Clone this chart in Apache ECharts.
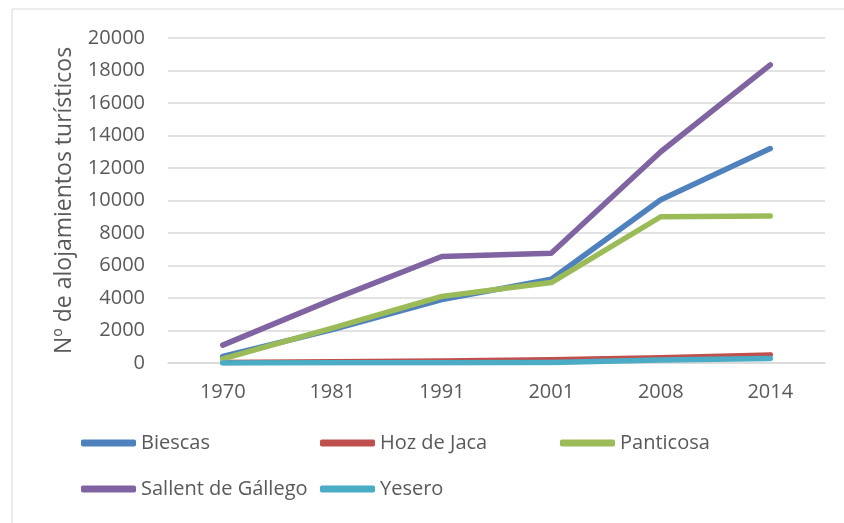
<!DOCTYPE html>
<html>
<head>
<meta charset="utf-8">
<script src="https://cdn.jsdelivr.net/npm/echarts@6/dist/echarts.min.js"></script>
<style>html,body{margin:0;padding:0;background:#fff;}#c{width:844px;height:523px;}</style>
</head>
<body>
<div id="c"></div>
<script>
const categories = ['1970', '1981', '1991', '2001', '2008', '2014'];
const biescas = [400, 2050, 3900, 5150, 10050, 13200];
const hozDeJaca = [30, 80, 130, 200, 330, 500];
const panticosa = [250, 2150, 4100, 4950, 9000, 9050];
const sallent = [1100, 3900, 6550, 6750, 13000, 18350];
const yesero = [0, 10, 20, 30, 180, 280];
const seriesNames = ['Biescas', 'Hoz de Jaca', 'Panticosa', 'Sallent de Gállego', 'Yesero'];
const seriesData = [biescas, hozDeJaca, panticosa, sallent, yesero];
const colors = ['#4F81BD', '#C0504D', '#9BBB59', '#8064A2', '#4BACC6'];
const yTitle = 'Nº de alojamientos turísticos';

const FONT = '"Open Sans", sans-serif';
const TXT = '#595959';
const chart = echarts.init(document.getElementById('c'), null, {renderer: 'canvas'});

const legendPos = [[81, 433], [320, 433], [560, 433], [81, 479], [320, 479]];
const legends = seriesNames.map((n, i) => ({
  data: [n],
  left: legendPos[i][0],
  top: legendPos[i][1],
  icon: 'roundRect',
  itemWidth: 55,
  itemHeight: 7,
  padding: 0,
  textStyle: {fontFamily: FONT, fontSize: 20, color: TXT},
  selectedMode: false
}));

chart.setOption({
  animation: false,
  color: colors,
  graphic: [{
    type: 'rect',
    shape: {x: 12, y: 9, width: 900, height: 600},
    style: {fill: 'none', stroke: '#d9d9d9', lineWidth: 1},
    silent: true
  }],
  legend: legends,
  grid: {left: 168, right: 19, top: 38, bottom: 160, containLabel: false},
  xAxis: {
    type: 'category',
    data: categories,
    boundaryGap: true,
    axisLine: {show: true, lineStyle: {color: '#d9d9d9', width: 1.5}},
    axisTick: {show: false},
    axisLabel: {fontFamily: FONT, fontSize: 20, color: TXT, margin: 19}
  },
  yAxis: {
    type: 'value',
    min: 0,
    max: 20000,
    interval: 2000,
    name: yTitle,
    nameLocation: 'middle',
    nameGap: 92,
    nameTextStyle: {fontFamily: FONT, fontSize: 23, color: TXT},
    axisLine: {show: false},
    axisTick: {show: false},
    splitLine: {lineStyle: {color: '#d9d9d9', width: 1.5}},
    axisLabel: {fontFamily: FONT, fontSize: 20, color: TXT, margin: 23, formatter: v => String(v)}
  },
  series: seriesNames.map((n, i) => ({
    name: n,
    type: 'line',
    data: seriesData[i],
    showSymbol: false,
    symbol: 'none',
    lineStyle: {width: 5.5, color: colors[i], cap: 'round', join: 'round'},
    itemStyle: {color: colors[i]}
  }))
});
</script>
</body>
</html>
